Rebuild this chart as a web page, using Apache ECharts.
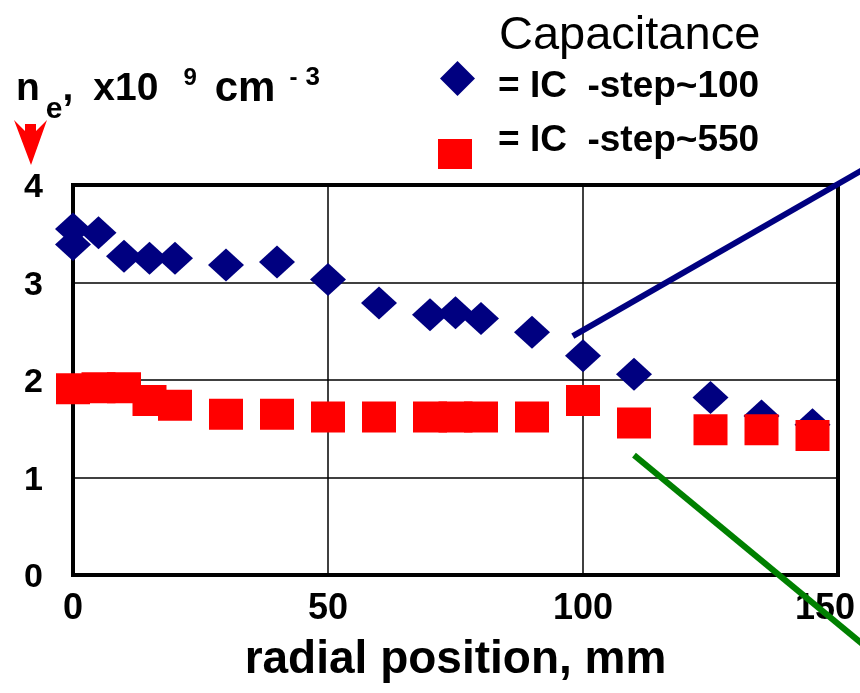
<!DOCTYPE html>
<html>
<head>
<meta charset="utf-8">
<script src="https://cdn.jsdelivr.net/npm/echarts@6/dist/echarts.min.js"></script>
<style>
  html, body { margin: 0; padding: 0; background: #fff; }
  #main { width: 860px; height: 693px; }
</style>
</head>
<body>
<div id="main"></div>
<script>
// radial position (mm) and density (x10^9 cm^-3)
var blueX = [0, 0, 5, 10, 15, 20, 30, 40, 50, 60, 70, 75, 80, 90, 100, 110, 125, 135, 145];
var blueY = [3.55, 3.39, 3.51, 3.27, 3.25, 3.25, 3.18, 3.21, 3.03, 2.79, 2.67, 2.69, 2.63, 2.49, 2.25, 2.06, 1.82, 1.63, 1.54];
var redX = [0, 5, 10, 15, 20, 30, 40, 50, 60, 70, 75, 80, 90, 100, 110, 125, 135, 145];
var redY = [1.91, 1.92, 1.92, 1.79, 1.74, 1.65, 1.65, 1.62, 1.62, 1.62, 1.62, 1.62, 1.62, 1.79, 1.56, 1.49, 1.49, 1.43];
// pointer lines running out of the frame
var blueLineX = [98, 156];
var blueLineY = [2.45, 4.19];
var greenLineX = [110, 156];
var greenLineY = [1.23, -0.76];
var xTicks = [0, 50, 100, 150];
var yTicks = [0, 1, 2, 3, 4];

function pairs(xs, ys) {
    return xs.map(function (x, i) { return [x, ys[i]]; });
}

var FONT = '"Liberation Sans", Arial, sans-serif';
var W = 860, LEFT = 73, RIGHT = 22, TOP = 185, BOTTOM = 118;
var xMax = xTicks[xTicks.length - 1];
// second (invisible) grid reaching the canvas edge so the pointer lines are not cut at the frame
var xMaxWide = xMax * (W - LEFT) / (W - LEFT - RIGHT);

// legend icons: the empty point moves the text off the symbol's centre, as in the original
var diamondIcon = 'path://M17.5,0 L35,17.5 L17.5,35 L0,17.5 Z M17.5,51 L17.5,51 Z';
var squareIcon = 'path://M0,0 L0,0 Z M0,26 L34,26 L34,56 L0,56 Z';

var myChart = echarts.init(document.getElementById('main'));

var option = {
    backgroundColor: '#fff',
    animation: false,
    textStyle: { fontFamily: FONT },
    title: [
        {
            left: 16,
            top: 54,
            padding: 0,
            text: '{n|n}{sub|e}{t|,}{x|x10}{sup|9}{cm|cm}{dash|-}{sup3|3}',
            textStyle: {
                rich: {
                    n: { fontFamily: FONT, fontSize: 39, fontWeight: 'bold', color: '#000', lineHeight: 71, verticalAlign: 'middle' },
                    t: { fontFamily: FONT, fontSize: 39, fontWeight: 'bold', color: '#000', lineHeight: 40, verticalAlign: 'middle' },
                    x: { fontFamily: FONT, fontSize: 39, fontWeight: 'bold', color: '#000', lineHeight: 40, verticalAlign: 'middle', padding: [0, 0, 0, 20] },
                    cm: { fontFamily: FONT, fontSize: 42, fontWeight: 'bold', color: '#000', lineHeight: 40, verticalAlign: 'middle', padding: [0, 0, 0, 18] },
                    sub: { fontFamily: FONT, fontSize: 30, fontWeight: 'bold', color: '#000', verticalAlign: 'bottom', padding: [0, 0, 0, 6] },
                    sup: { fontFamily: FONT, fontSize: 24, fontWeight: 'bold', color: '#000', verticalAlign: 'top', padding: [12, 0, 0, 25] },
                    dash: { fontFamily: FONT, fontSize: 24, fontWeight: 'bold', color: '#000', verticalAlign: 'top', padding: [12, 0, 0, 14] },
                    sup3: { fontFamily: FONT, fontSize: 26, fontWeight: 'bold', color: '#000', verticalAlign: 'top', padding: [11, 0, 0, 8] }
                }
            }
        },
        {
            left: 494,
            top: 8,
            text: 'Capacitance',
            textStyle: { fontFamily: FONT, fontSize: 47, fontWeight: 'normal', color: '#000' }
        }
    ],
    legend: [
        {
            left: 440,
            top: 61,
            padding: 0,
            itemWidth: 35,
            itemHeight: 51,
            data: [{ name: '= IC  -step~100', icon: diamondIcon }],
            textStyle: { fontFamily: FONT, fontSize: 37, fontWeight: 'bold', color: '#000', padding: [0, 0, 0, 18] }
        },
        {
            left: 438,
            top: 113,
            padding: 0,
            itemWidth: 34,
            itemHeight: 56,
            data: [{ name: '= IC  -step~550', icon: squareIcon }],
            textStyle: { fontFamily: FONT, fontSize: 37, fontWeight: 'bold', color: '#000', padding: [0, 0, 0, 21] }
        }
    ],
    grid: [
        {
            left: LEFT,
            right: RIGHT,
            top: TOP,
            bottom: BOTTOM,
            outerBoundsMode: 'none',
            containLabel: false,
            show: true,
            borderColor: '#000',
            borderWidth: 4,
            backgroundColor: 'transparent'
        },
        {
            left: LEFT,
            right: 0,
            top: TOP,
            bottom: BOTTOM,
            outerBoundsMode: 'none',
            containLabel: false,
            show: false
        }
    ],
    xAxis: [
        {
            type: 'value',
            gridIndex: 0,
            min: xTicks[0],
            max: xMax,
            interval: 50,
            name: 'radial position, mm',
            nameLocation: 'middle',
            nameGap: 62,
            nameTextStyle: { fontFamily: FONT, fontSize: 46, fontWeight: 'bold', color: '#000' },
            axisLine: { show: false },
            axisTick: { show: false },
            axisLabel: {
                fontFamily: FONT, fontSize: 36, fontWeight: 'bold', color: '#000', margin: 16,
                formatter: function (v) { return v === xMax ? '{r|' + v + '}' : String(v); },
                rich: { r: { fontFamily: FONT, fontSize: 36, fontWeight: 'bold', color: '#000', padding: [0, 26, 0, 0] } }
            },
            splitLine: { show: true, lineStyle: { color: '#000', width: 1.5 } }
        },
        {
            type: 'value',
            gridIndex: 1,
            min: xTicks[0],
            max: xMaxWide,
            show: false
        }
    ],
    yAxis: [
        {
            type: 'value',
            gridIndex: 0,
            min: yTicks[0],
            max: yTicks[yTicks.length - 1],
            interval: 1,
            axisLine: { show: false },
            axisTick: { show: false },
            axisLabel: { fontFamily: FONT, fontSize: 34, fontWeight: 'bold', color: '#000', margin: 30, verticalAlign: 'top', lineHeight: 6 },
            splitLine: { show: true, lineStyle: { color: '#000', width: 1.5 } }
        },
        {
            type: 'value',
            gridIndex: 1,
            min: yTicks[0],
            max: yTicks[yTicks.length - 1],
            show: false
        }
    ],
    series: [
        {
            name: '= IC  -step~100',
            type: 'scatter',
            symbol: 'diamond',
            symbolSize: [36, 33],
            itemStyle: { color: '#000080', opacity: 1 },
            data: pairs(blueX, blueY),
            z: 3
        },
        {
            name: '= IC  -step~550',
            type: 'scatter',
            symbol: 'rect',
            symbolSize: [34, 31],
            itemStyle: { color: '#ff0000', opacity: 1 },
            data: pairs(redX, redY),
            z: 4
        },
        {
            type: 'line',
            xAxisIndex: 1,
            yAxisIndex: 1,
            clip: false,
            symbol: 'none',
            lineStyle: { color: '#000080', width: 6 },
            data: pairs(blueLineX, blueLineY),
            z: 5
        },
        {
            type: 'line',
            xAxisIndex: 1,
            yAxisIndex: 1,
            clip: false,
            symbol: 'none',
            lineStyle: { color: '#008000', width: 6 },
            data: pairs(greenLineX, greenLineY),
            z: 5
        }
    ],
    graphic: [
        {
            // red arrow under the axis title
            type: 'polygon',
            shape: { points: [[14, 120], [25, 131], [25, 124], [36, 124], [36, 131], [47, 120], [31, 165]] },
            style: { fill: '#ff0000' }
        }
    ]
};
myChart.setOption(option);
</script>
</body>
</html>
